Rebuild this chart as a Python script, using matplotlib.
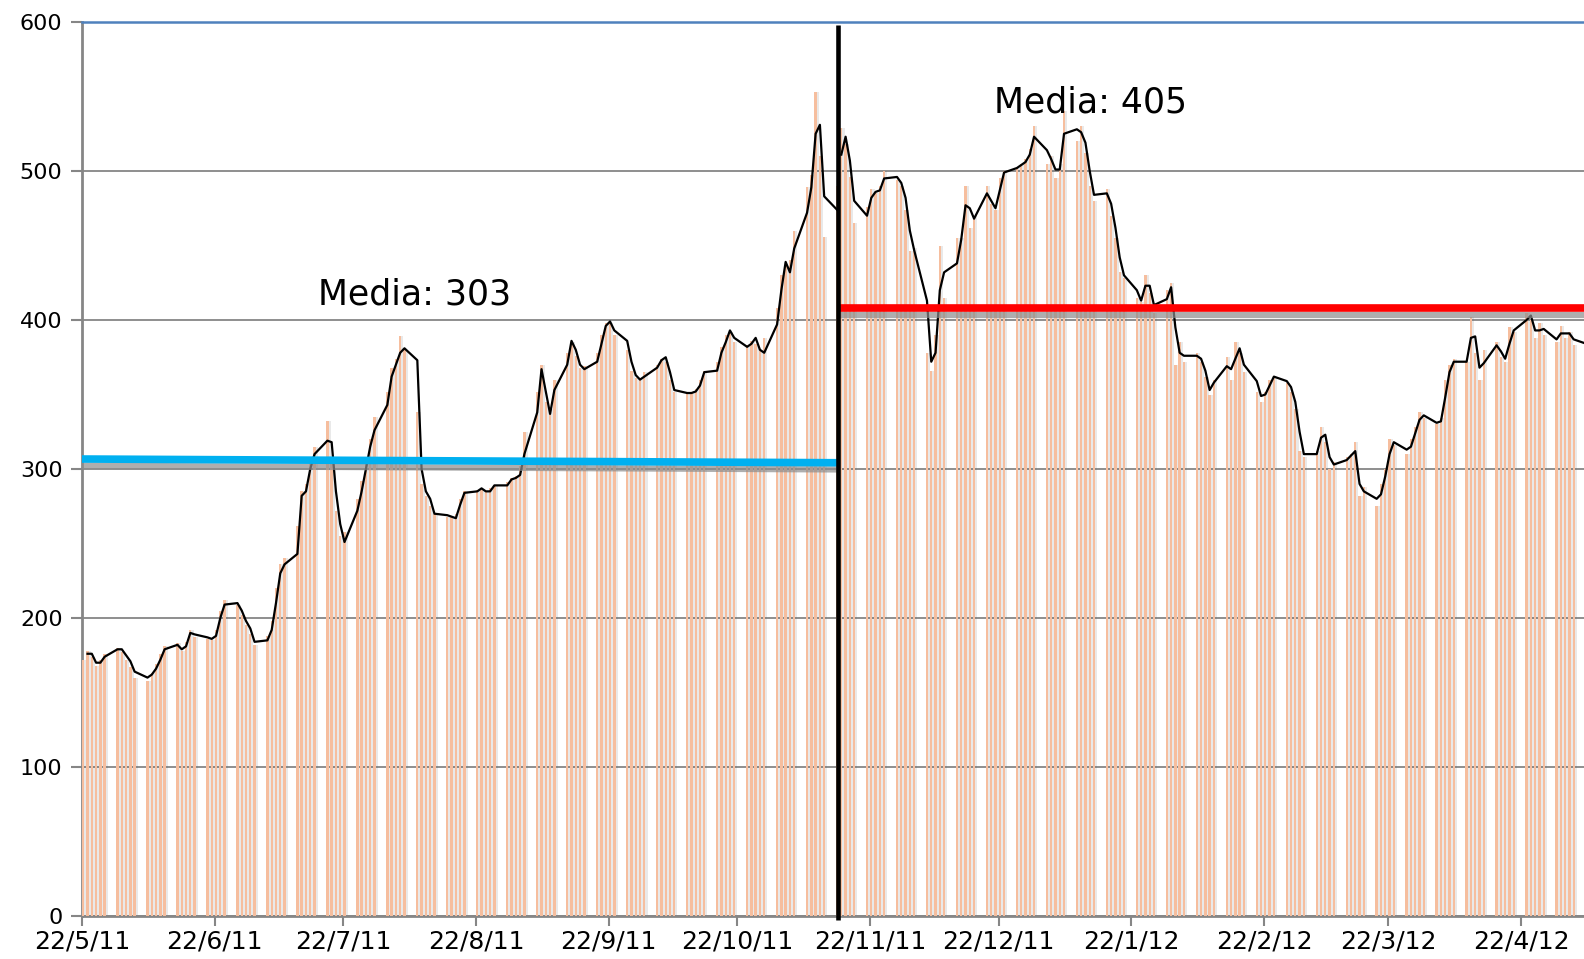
import matplotlib
matplotlib.use("Agg")
import matplotlib.pyplot as plt
import pandas as pd

# ---- data -------------------------------------------------------------
START = pd.Timestamp("2011-05-22")
SPLIT = pd.Timestamp("2011-11-14 12:00")
X_END = START + pd.Timedelta(days=350.7)

first_bar = 172          # Sunday 22/5/11, the only non-weekday point

# weekday values, one row per week (Mon..Fri)
bars_before = [
    178, 174, 168, 172, 176,
    180, 177, 172, 167, 160,
    158, 163, 169, 176, 181,
    183, 178, 184, 192, 187,
    186, 185, 192, 205, 212,
    209, 202, 195, 189, 182,
    188, 198, 220, 236, 240,
    262, 285, 290, 305, 315,
    332, 305, 272, 255, 258,
    280, 292, 308, 320, 335,
    352, 368, 374, 389, 380,
    338, 290, 282, 275, 270,
    268, 268, 270, 280, 285,
    286, 286, 285, 287, 289,
    291, 294, 295, 302, 325,
    352, 370, 345, 340, 360,
    378, 385, 376, 368, 369,
    378, 390, 398, 398, 390,
    380, 366, 361, 361, 365,
    370, 374, 372, 360, 352,
    351, 351, 354, 360, 366,
    372, 382, 390, 392, 385,
    383, 386, 384, 379, 388,
    408, 430, 436, 440, 460,
    489, 497, 553, 510, 456,
    490,
]
trend_before = [
    176, 176, 170, 170, 174,
    179, 179, 175, 171, 164,
    160, 162, 166, 172, 179,
    182, 179, 181, 190, 189,
    187, 186, 188, 200, 209,
    210, 205, 198, 193, 184,
    185, 192, 210, 230, 236,
    243, 282, 285, 300, 310,
    319, 318, 285, 263, 251,
    272, 285, 300, 315, 326,
    343, 362, 370, 378, 381,
    373, 300, 285, 280, 270,
    269, 268, 267, 276, 284,
    285, 287, 285, 285, 289,
    289, 293, 294, 296, 310,
    338, 367, 352, 337, 353,
    370, 386, 380, 370, 367,
    372, 384, 396, 399, 393,
    386, 372, 363, 360, 362,
    368, 373, 375, 365, 353,
    351, 351, 352, 356, 365,
    366, 378, 385, 393, 388,
    382, 384, 388, 380, 378,
    397, 420, 439, 432, 448,
    472, 489, 525, 531, 483,
    474,
]
bars_after = [
         529, 518, 496, 465,
    476, 488, 485, 490, 500,
    494, 490, 474, 446, 448,
    378, 366, 390, 450, 415,
    455, 455, 490, 462, 470,
    490, 478, 474, 495, 500,
    502, 505, 508, 515, 530,
    505, 510, 495, 505, 540,
    520, 530, 512, 490, 480,
    488, 470, 455, 432, 428,
    415, 412, 430, 418, 405,
    420, 425, 370, 385, 372,
    378, 372, 362, 350, 360,
    375, 360, 385, 378, 365,
    352, 345, 352, 360, 362,
    358, 352, 340, 312, 308,
    312, 328, 318, 300, 305,
    308, 310, 318, 282, 288,
    275, 290, 300, 320, 316,
    310, 320, 328, 338, 334,
    330, 334, 360, 370, 374,
    372, 402, 378, 360, 380,
    385, 375, 372, 395, 392,
    405, 400, 388, 398, 390,
    385, 396, 388, 392, 383,
    386, 380,
]
trend_after = [
         511, 523, 507, 480,
    470, 482, 486, 487, 495,
    496, 492, 482, 460, 447,
    413, 372, 378, 420, 432,
    438, 454, 477, 475, 468,
    485, 480, 475, 487, 499,
    502, 504, 506, 511, 523,
    514, 508, 501, 501, 525,
    528, 526, 519, 500, 484,
    485, 478, 462, 442, 430,
    420, 413, 423, 423, 410,
    414, 422, 395, 378, 376,
    376, 374, 366, 353, 358,
    369, 367, 374, 381, 370,
    359, 349, 350, 356, 362,
    359, 355, 345, 325, 310,
    310, 321, 323, 308, 303,
    306, 309, 312, 290, 285,
    280, 283, 295, 310, 318,
    313, 315, 324, 333, 336,
    331, 332, 348, 365, 372,
    372, 388, 389, 368, 371,
    383, 379, 374, 384, 393,
    400, 403, 393, 393, 394,
    387, 391, 391, 391, 387,
    384, 382,
]
mean_before = [306.7, 304.2]   # drawn line, left end / right end
mean_after = 408
label_before = "Media: 303"
label_after = "Media: 405"

days_before = pd.bdate_range("2011-05-23", "2011-11-14")
days_after = pd.bdate_range("2011-11-15", "2012-05-08")
bar_days_before = pd.DatetimeIndex([START]).append(days_before)
all_bar_days = bar_days_before.append(days_after)
all_bars = [first_bar] + bars_before + bars_after

OFFSET = pd.Timedelta(hours=7)

# ---- figure -----------------------------------------------------------
plt.rcParams["font.family"] = ["DejaVu Sans"]
fig = plt.figure(figsize=(15.84, 9.59), dpi=100)
ax = fig.add_axes([82 / 1584, 43 / 959, 1 - 82 / 1584, 894 / 959])

# bars with a soft grey shadow
xb = all_bar_days + OFFSET
ax.bar(xb + pd.Timedelta(hours=6), all_bars, width=1.0, color="#5a5a5a",
       alpha=0.13, linewidth=0, zorder=2)
ax.bar(xb, all_bars, width=0.55, color="#F6BE9E", linewidth=0, zorder=3)

# 2-day trend lines, one for each period
ax.plot(days_before + OFFSET, trend_before, color="black", lw=1.6, zorder=5)
ax.plot(days_after + OFFSET, trend_after, color="black", lw=1.6, zorder=5)

# period means (with drop shadow)
x0 = START
ax.plot([x0, SPLIT], [mean_before[0] - 4.5, mean_before[1] - 4.5],
        color="#8c8c8c", lw=4.5, alpha=0.7, solid_capstyle="butt", zorder=6)
ax.plot([x0, SPLIT], mean_before, color="#00B0F0", lw=5.5,
        solid_capstyle="butt", zorder=7)
ax.plot([SPLIT, X_END], [mean_after - 4.5] * 2,
        color="#8c8c8c", lw=4.5, alpha=0.7, solid_capstyle="butt", zorder=6)
ax.plot([SPLIT, X_END], [mean_after] * 2, color="#FF0000", lw=5.5,
        solid_capstyle="butt", zorder=7)

# split marker
ax.plot([SPLIT, SPLIT], [-3, 598], color="black", lw=3.3, clip_on=False,
        solid_capstyle="butt", zorder=8)

ax.text(pd.Timestamp("2011-07-16"), 417, label_before, fontsize=25,
        va="center", ha="left", zorder=9)
ax.text(pd.Timestamp("2011-12-21"), 546, label_after, fontsize=25,
        va="center", ha="left", zorder=9)

# ---- axes chrome ------------------------------------------------------
ax.set_xlim(START, X_END)
ax.set_ylim(0, 600)
ax.set_yticks(range(0, 601, 100))
ax.tick_params(axis="y", labelsize=16, length=8, width=1.5,
               color="#868686", pad=6)

ticks = [START + pd.DateOffset(months=i) for i in range(12)]
ax.set_xticks(ticks)
ax.set_xticklabels([f"{d.day}/{d.month}/{d.year % 100}" for d in ticks])
ax.tick_params(axis="x", labelsize=18, length=7, width=1.5,
               color="#868686", pad=3)

ax.grid(axis="y", color="#868686", lw=1.3, zorder=0)
ax.set_axisbelow(True)
ax.spines["right"].set_visible(False)
ax.spines["top"].set_color("#4F81BD")
ax.spines["top"].set_linewidth(1.8)
for s in ("left", "bottom"):
    ax.spines[s].set_color("#868686")
    ax.spines[s].set_linewidth(2)

fig.savefig("out.png", dpi=100)
